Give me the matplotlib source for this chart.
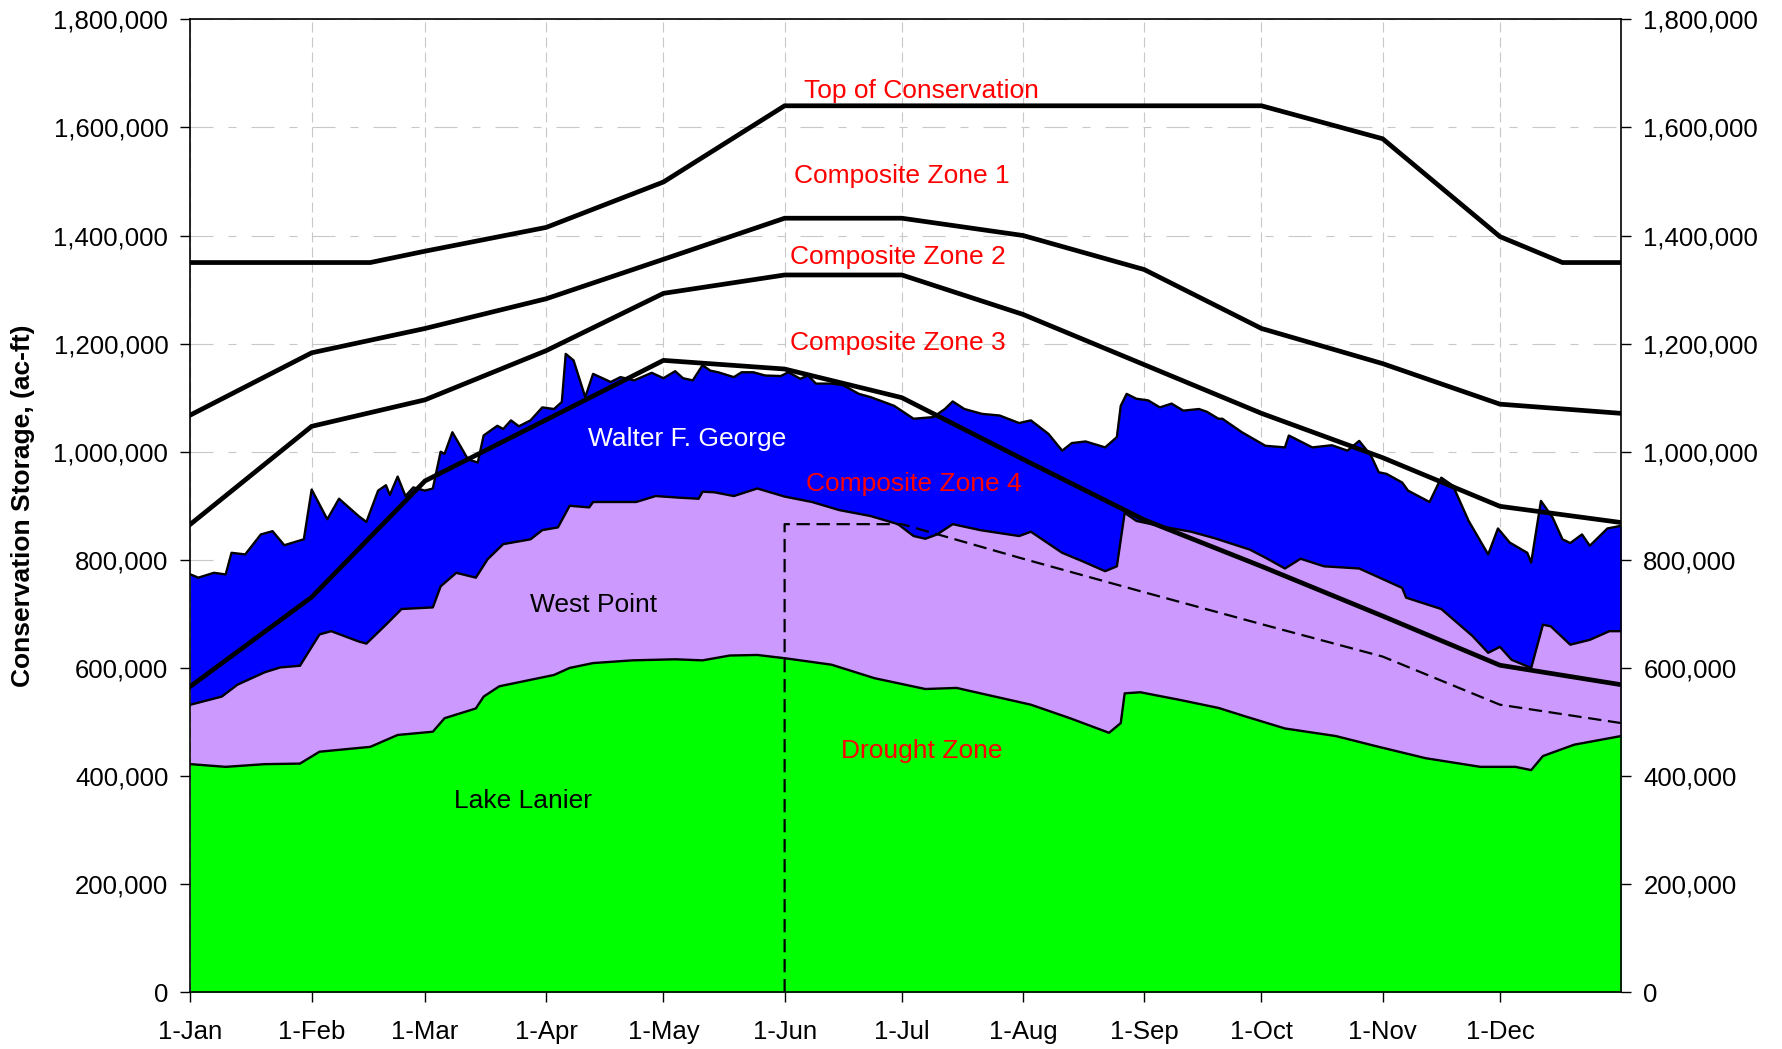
import numpy as np
import matplotlib
matplotlib.use("Agg")
import matplotlib.pyplot as plt
from matplotlib.ticker import FuncFormatter

# day of (leap) year, 0 = 1-Jan
month_days = [0, 31, 60, 91, 121, 152, 182, 213, 244, 274, 305, 335]
month_labels = ["1-Jan", "1-Feb", "1-Mar", "1-Apr", "1-May", "1-Jun",
                "1-Jul", "1-Aug", "1-Sep", "1-Oct", "1-Nov", "1-Dec"]

# cumulative storage (thousand ac-ft), stacked: Lanier, + West Point, + Walter F. George
lanier_days = [0, 9, 19, 28, 33, 46, 53, 62, 65, 73, 75, 79, 93, 97, 103, 113, 124, 131,
               138, 145, 152, 164, 175, 188, 196, 215, 225, 235, 238, 239, 243, 253, 263,
               270, 280, 293, 304, 316, 330, 339, 343, 346, 354, 366]
lanier_top = [422, 417, 422, 423, 445, 454, 476, 482, 507, 525, 547, 566, 587, 600, 609, 614, 616, 614,
              623, 624, 618, 606, 581, 561, 563, 532, 507, 480, 498, 553, 555, 541, 526,
              510, 488, 474, 454, 433, 417, 417, 411, 437, 458, 474]

wp_days = [0, 8, 12, 19, 23, 28, 33, 36, 43, 45, 50, 54, 62, 64, 68, 73, 76, 80, 87, 90, 94, 97,
           102, 103, 114, 119, 125, 130, 131, 134, 139, 145, 152, 159, 166, 174, 181, 185, 188,
           191, 195, 202, 212, 215, 223, 228, 234, 237, 239, 242, 249, 256, 262, 271, 275, 280,
           284, 290, 299, 310, 311, 320, 328, 332, 335, 338, 343, 346, 348, 353, 358, 363, 366]
wp_top = [532, 547, 569, 592, 601, 604, 662, 668, 649, 645, 680, 709, 712, 751, 776, 767, 801, 829,
          838, 855, 860, 900, 897, 907, 907, 918, 915, 913, 926, 925, 918, 932, 917, 907, 892, 881,
          866, 844, 839, 847, 866, 855, 844, 852, 813, 798, 779, 788, 887, 872, 861, 852, 840, 819,
          804, 784, 802, 788, 784, 748, 730, 709, 659, 628, 639, 615, 600, 680, 677, 643, 652, 668, 668]

wfg_days = [0, 2, 6, 9, 10.5, 14, 18, 21, 24, 29, 31, 35, 38, 43, 45, 48, 50, 51, 53, 55, 57, 60,
            62, 64, 65, 67, 71, 73.5, 75, 78.5, 80, 82, 84, 87, 90, 93, 95, 96, 98, 101, 103,
            107.5, 110, 113.5, 118, 121, 124, 126, 128.5, 131, 133, 135, 139, 141, 144, 147, 151,
            153, 156, 158, 160, 164, 167, 171, 174, 180, 185, 190, 193, 195, 198, 202.5, 207, 212,
            215, 219.5, 223, 225.5, 229, 234, 237, 238, 239.5, 242, 245, 248, 251, 254, 258, 260,
            263, 264, 269, 275, 280, 281, 287, 292, 296, 299, 302, 304, 306, 310, 311.5, 317, 320,
            323, 327, 332, 334.5, 337.5, 342, 343, 345.5, 348.5, 351, 353, 356, 358, 362.5, 366]
wfg_top = [773, 767, 776, 773, 813, 810, 847, 853, 827, 838, 930, 875, 913, 881, 870, 928, 938, 920,
           954, 918, 934, 928, 932, 1000, 996, 1036, 986, 980, 1030, 1048, 1042, 1058, 1047, 1058,
           1082, 1079, 1092, 1181, 1169, 1101, 1144, 1129, 1138, 1132, 1146, 1136, 1149, 1136,
           1132, 1160, 1150, 1147, 1138, 1147, 1147, 1141, 1140, 1147, 1135, 1141, 1126, 1126,
           1123, 1107, 1101, 1085, 1061, 1064, 1079, 1093, 1079, 1070, 1067, 1053, 1058, 1033,
           1002, 1016, 1019, 1008, 1027, 1085, 1107, 1098, 1095, 1082, 1089, 1076, 1079, 1074,
           1061, 1061, 1036, 1011, 1008, 1030, 1008, 1012, 1002, 1020, 993, 962, 959, 943, 928,
           907, 952, 937, 872, 810, 858, 832, 813, 795, 909, 878, 838, 831, 847, 826, 858, 863]

# rule curves (thousand ac-ft)
toc_days = [0, 46, 60, 91, 121, 152, 274, 305, 335, 351, 366]
toc = [1350, 1350, 1371, 1415, 1499, 1640, 1640, 1579, 1398, 1350, 1350]

zone_days = [0, 31, 60, 91, 121, 152, 182, 213, 244, 274, 305, 335, 366]
zone1_bottom = [1068, 1183, 1228, 1283, 1356, 1432, 1432, 1400, 1337, 1228, 1163, 1088, 1071]
zone2_bottom = [866, 1047, 1096, 1187, 1293, 1327, 1327, 1254, 1161, 1071, 989, 899, 869]
zone3_bottom = [566, 731, 946, 1059, 1169, 1153, 1100, 986, 874, 788, 696, 605, 569]

drought_days = [152, 152, 182, 213, 244, 274, 305, 335, 366]
drought = [0, 866, 866, 802, 740, 681, 621, 532, 498]

# zone / reservoir labels: (text, day, value, colour)
labels = [
    ("Top of Conservation", 187, 1667, "red"),
    ("Composite Zone 1", 182, 1510, "red"),
    ("Composite Zone 2", 181, 1360, "red"),
    ("Composite Zone 3", 181, 1201, "red"),
    ("Composite Zone 4", 185, 940, "red"),
    ("Drought Zone", 187, 446, "red"),
    ("Walter F. George", 127, 1024, "white"),
    ("West Point", 103, 717, "black"),
    ("Lake Lanier", 85, 354, "black"),
]


def k(v):
    return np.array(v) * 1000.0


def plot_data():
    plt.rcParams["font.family"] = ["Liberation Sans", "DejaVu Sans"]
    fig = plt.figure(figsize=(17.82, 10.49), dpi=100)
    ax = fig.add_axes([0.1069, 0.0541, 0.8028, 0.9275])

    # stacked areas drawn back to front
    ax.fill_between(wfg_days, 0, k(wfg_top), color="#0000FF", lw=0, zorder=1)
    ax.plot(wfg_days, k(wfg_top), color="black", lw=1.7, zorder=1.5)
    ax.fill_between(wp_days, 0, k(wp_top), color="#CC99FF", lw=0, zorder=2)
    ax.plot(wp_days, k(wp_top), color="black", lw=1.7, zorder=2.5)
    ax.fill_between(lanier_days, 0, k(lanier_top), color="#00FF00", lw=0, zorder=3)
    ax.plot(lanier_days, k(lanier_top), color="black", lw=1.7, zorder=3.5)

    for d, v in [(toc_days, toc), (zone_days, zone1_bottom),
                 (zone_days, zone2_bottom), (zone_days, zone3_bottom)]:
        ax.plot(d, k(v), color="black", lw=3.4, solid_joinstyle="miter", zorder=5)
    ax.plot(drought_days, k(drought), color="black", lw=1.6, ls=(0, (6, 3)), zorder=5)

    for txt, d, v, c in labels:
        ax.text(d, v * 1000, txt, color=c, fontsize=19, ha="center", va="center", zorder=6)

    ax.set_xlim(0, 366)
    ax.set_ylim(0, 1800000)
    ax.set_xticks(month_days)
    ax.set_xticklabels(month_labels)
    ax.set_yticks(np.arange(0, 1800001, 200000))
    ax.yaxis.set_major_formatter(FuncFormatter(lambda y, p: "{:,.0f}".format(y)))
    ax.tick_params(axis="y", direction="out", length=7, width=1, pad=9, labelsize=18.5,
                   left=True, right=True, labelleft=True, labelright=True)
    ax.tick_params(axis="x", direction="out", length=7, width=1, pad=13, labelsize=18.5)
    ax.set_axisbelow(True)
    ax.yaxis.grid(True, color="#C8C8C8", lw=0.8, ls=(0, (20.7, 13.5, 7.2, 13.5)))
    ax.xaxis.grid(True, color="#C8C8C8", lw=0.8, ls=(0, (9, 4.5)))
    for s in ax.spines.values():
        s.set_linewidth(1.2)
        s.set_zorder(7)
    ax.set_ylabel("Conservation Storage, (ac-ft)", fontsize=19, fontweight="bold")
    ax.yaxis.set_label_coords(-0.109, 0.5)

    fig.savefig("out.png", dpi=100)


if __name__ == "__main__":
    plot_data()
